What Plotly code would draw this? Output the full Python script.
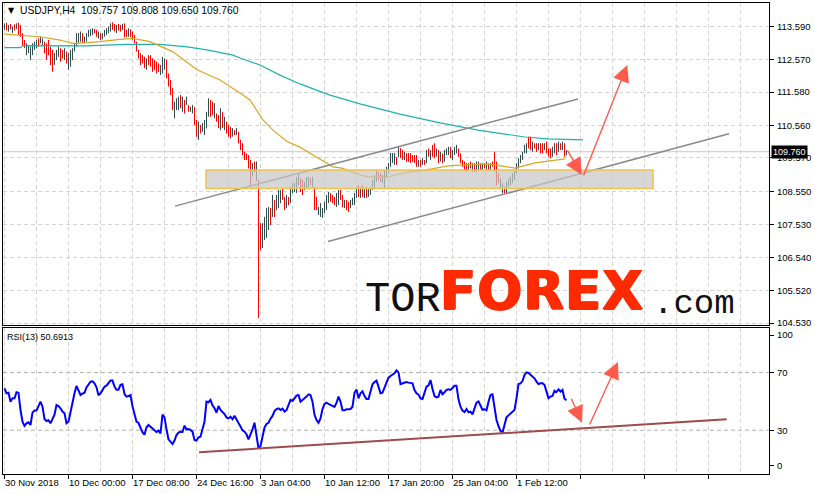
import plotly.graph_objects as go

# ---------------- data (USDJPY H4, bar index 0 = 30 Nov 2018) ----------------
highs = [
    113.68,113.70,113.63,113.66,113.58,113.65,113.68,113.70,113.63,113.38,
    113.17,113.07,113.02,112.97,113.07,113.12,113.17,113.22,113.27,113.22,
    113.12,113.07,113.17,112.97,112.87,112.77,112.87,112.97,112.92,112.87,
    112.92,112.82,112.77,112.87,112.92,113.07,113.38,113.38,113.43,113.38,
    113.27,113.38,113.48,113.50,113.53,113.51,113.48,113.43,113.38,113.38,
    113.48,113.53,113.58,113.68,113.71,113.66,113.63,113.66,113.63,113.66,
    113.68,113.48,113.53,113.50,113.43,113.32,113.12,112.87,112.77,112.71,
    112.66,112.61,112.71,112.71,112.61,112.56,112.51,112.46,112.41,112.66,
    112.61,112.56,112.15,111.95,111.70,111.29,111.39,111.44,111.49,111.44,
    111.34,111.44,111.19,111.13,111.19,111.13,110.73,110.68,110.58,110.63,
    110.73,110.98,111.39,111.34,111.29,111.24,110.93,110.88,111.09,110.98,
    110.83,110.68,110.58,110.52,110.48,110.42,110.48,110.37,110.12,110.02,
    109.76,109.71,109.66,109.51,109.41,109.46,109.46,108.90,107.58,107.58,
    107.77,108.04,108.07,108.04,108.44,108.29,108.44,108.59,108.59,108.65,
    108.38,108.44,108.38,108.68,108.81,108.81,108.99,109.11,108.96,108.90,
    108.84,108.99,108.99,108.96,108.99,108.68,108.38,108.07,108.19,108.04,
    108.23,108.44,108.53,108.50,108.44,108.38,108.50,108.59,108.59,108.44,
    108.29,108.29,108.23,108.29,108.35,108.50,108.68,108.74,108.68,108.74,
    108.65,108.68,108.65,108.68,108.90,109.05,109.20,109.14,109.11,109.05,
    109.20,109.30,109.42,109.72,109.72,109.72,109.60,109.91,109.87,109.81,
    109.76,109.72,109.72,109.72,109.66,109.66,109.66,109.51,109.51,109.56,
    109.51,109.81,109.86,109.81,109.97,110.02,109.86,109.81,109.76,109.71,
    109.81,109.86,109.91,109.91,109.81,109.91,109.97,109.86,109.71,109.51,
    109.46,109.41,109.41,109.46,109.41,109.41,109.46,109.46,109.41,109.41,
    109.41,109.46,109.41,109.41,109.46,109.76,109.46,109.10,108.95,108.80,
    108.69,108.85,108.95,109.00,109.10,109.20,109.41,109.56,109.66,109.76,
    109.97,110.02,110.22,110.22,110.07,110.02,110.02,110.02,110.02,110.02,
    110.02,110.07,109.86,109.86,109.91,110.02,110.02,110.07,110.02,110.07,
    110.02,109.808]
lows = [
    113.48,113.46,113.43,113.50,113.38,113.46,113.50,113.32,113.27,113.02,
    112.92,112.71,112.77,112.56,112.71,112.87,112.92,112.97,113.07,113.02,
    112.77,112.56,112.71,112.41,112.20,112.41,112.56,112.66,112.51,112.61,
    112.56,112.46,112.26,112.36,112.56,112.82,112.97,113.07,113.12,113.07,
    113.07,113.12,113.27,113.29,113.32,113.38,113.27,113.22,113.17,113.19,
    113.27,113.32,113.38,113.43,113.48,113.43,113.38,113.46,113.43,113.48,
    113.25,113.27,113.27,113.27,113.17,113.07,112.82,112.61,112.41,112.46,
    112.31,112.26,112.41,112.36,112.20,112.26,112.15,112.20,112.10,112.15,
    112.26,112.00,111.75,111.49,111.03,110.78,111.03,111.03,111.09,110.98,
    110.93,111.19,110.98,110.98,110.93,110.58,110.22,110.12,110.32,110.37,
    110.27,110.47,110.83,110.83,110.88,110.78,110.68,110.48,110.42,110.48,
    110.42,110.32,110.22,110.17,110.22,110.27,110.27,110.02,109.81,109.66,
    109.51,109.51,109.25,108.69,109.00,109.15,108.85,104.68,106.76,106.82,
    107.06,107.13,107.37,107.52,107.77,107.77,107.98,108.04,108.19,108.29,
    107.98,108.04,108.13,108.19,108.50,108.53,108.50,108.74,108.53,108.44,
    108.59,108.65,108.68,108.74,108.68,107.98,107.98,107.83,107.77,107.74,
    107.89,107.98,108.19,108.23,108.19,108.13,108.07,108.13,108.29,108.07,
    108.04,107.98,107.92,108.04,108.13,108.13,108.35,108.38,108.35,108.38,
    108.35,108.35,108.38,108.44,108.59,108.65,108.84,108.90,108.84,108.81,
    108.65,108.96,109.11,109.30,109.42,109.36,109.36,109.60,109.57,109.51,
    109.51,109.45,109.45,109.42,109.45,109.42,109.30,109.30,109.30,109.36,
    109.36,109.41,109.61,109.51,109.61,109.56,109.61,109.41,109.46,109.41,
    109.46,109.66,109.66,109.56,109.51,109.66,109.71,109.61,109.41,109.30,
    109.20,109.15,109.20,109.25,109.15,109.15,109.15,109.20,109.20,109.20,
    109.25,109.20,109.20,109.20,109.30,109.15,108.74,108.80,108.64,108.49,
    108.49,108.49,108.69,108.74,108.80,108.90,109.10,109.25,109.41,109.51,
    109.71,109.71,109.86,109.81,109.76,109.86,109.76,109.81,109.71,109.71,
    109.81,109.71,109.61,109.56,109.61,109.71,109.66,109.76,109.81,109.81,
    109.61,109.650]
opens = [
    113.51,113.67,113.46,113.63,113.41,113.62,113.53,113.67,113.60,113.35,
    113.14,112.74,112.80,112.59,112.74,112.90,112.95,113.19,113.10,113.05,
    113.09,113.04,113.14,112.94,112.84,112.44,112.59,112.69,112.89,112.84,
    112.59,112.79,112.29,112.39,112.59,112.85,113.00,113.10,113.15,113.35,
    113.10,113.15,113.30,113.32,113.35,113.48,113.45,113.25,113.35,113.22,
    113.30,113.35,113.41,113.46,113.68,113.63,113.41,113.63,113.60,113.51,
    113.65,113.45,113.30,113.47,113.40,113.29,113.09,112.84,112.74,112.68,
    112.63,112.29,112.68,112.68,112.58,112.53,112.48,112.43,112.13,112.18,
    112.29,112.53,112.12,111.92,111.67,110.81,111.06,111.06,111.46,111.01,
    111.31,111.22,111.16,111.01,110.96,111.10,110.70,110.15,110.55,110.40,
    110.30,110.50,110.86,111.31,111.26,110.81,110.90,110.85,110.45,110.95,
    110.45,110.65,110.55,110.49,110.25,110.39,110.30,110.34,110.09,109.99,
    109.73,109.68,109.63,109.48,109.03,109.43,108.88,108.87,107.55,106.85,
    107.09,107.16,107.40,108.01,107.80,108.26,108.01,108.07,108.22,108.62,
    108.35,108.07,108.35,108.22,108.53,108.56,108.53,108.77,108.93,108.87,
    108.62,108.68,108.71,108.93,108.71,108.65,108.35,107.86,107.80,107.77,
    107.92,108.01,108.22,108.47,108.41,108.35,108.10,108.16,108.56,108.41,
    108.07,108.26,108.20,108.07,108.16,108.16,108.38,108.71,108.38,108.71,
    108.38,108.65,108.41,108.47,108.62,108.68,108.87,109.11,109.08,108.84,
    108.68,108.99,109.14,109.33,109.45,109.39,109.57,109.63,109.84,109.78,
    109.54,109.69,109.69,109.69,109.63,109.63,109.63,109.33,109.48,109.39,
    109.48,109.44,109.83,109.54,109.94,109.99,109.64,109.78,109.49,109.68,
    109.49,109.69,109.69,109.88,109.54,109.69,109.74,109.83,109.68,109.48,
    109.43,109.38,109.23,109.43,109.18,109.38,109.18,109.23,109.38,109.23,
    109.38,109.23,109.38,109.23,109.43,109.73,109.43,109.07,108.67,108.52,
    108.66,108.52,108.72,108.77,108.83,108.93,109.13,109.28,109.44,109.54,
    109.74,109.74,110.19,110.19,109.79,109.99,109.99,109.84,109.99,109.99,
    109.84,110.04,109.83,109.83,109.64,109.74,109.99,109.79,109.99,109.84,
    109.99,109.757]
closes = [
    113.65,113.49,113.60,113.53,113.55,113.49,113.65,113.35,113.30,113.05,
    112.95,113.04,112.99,112.94,113.04,113.09,113.14,113.00,113.24,113.19,
    112.80,112.59,112.74,112.44,112.23,112.74,112.84,112.94,112.54,112.64,
    112.89,112.49,112.74,112.84,112.89,113.04,113.35,113.35,113.40,113.10,
    113.24,113.35,113.45,113.47,113.50,113.41,113.30,113.40,113.20,113.35,
    113.45,113.50,113.55,113.65,113.51,113.46,113.60,113.49,113.46,113.63,
    113.28,113.30,113.50,113.30,113.20,113.10,112.85,112.64,112.44,112.49,
    112.34,112.58,112.44,112.39,112.23,112.29,112.18,112.23,112.38,112.63,
    112.58,112.03,111.78,111.52,111.06,111.26,111.36,111.41,111.12,111.41,
    110.96,111.41,111.01,111.10,111.16,110.61,110.25,110.65,110.35,110.60,
    110.70,110.95,111.36,110.86,110.91,111.21,110.71,110.51,111.06,110.51,
    110.80,110.35,110.25,110.20,110.45,110.30,110.45,110.05,109.84,109.69,
    109.54,109.54,109.28,108.72,109.38,109.18,109.43,107.65,106.79,107.55,
    107.74,108.01,108.04,107.55,108.41,107.80,108.41,108.56,108.56,108.32,
    108.01,108.41,108.16,108.65,108.78,108.78,108.96,109.08,108.56,108.47,
    108.81,108.96,108.96,108.77,108.96,108.01,108.01,108.04,108.16,108.01,
    108.20,108.41,108.50,108.26,108.22,108.16,108.47,108.56,108.32,108.10,
    108.26,108.01,107.95,108.26,108.32,108.47,108.65,108.41,108.65,108.41,
    108.62,108.38,108.62,108.65,108.87,109.02,109.17,108.93,108.87,109.02,
    109.17,109.27,109.39,109.69,109.69,109.69,109.39,109.88,109.60,109.54,
    109.73,109.48,109.48,109.45,109.48,109.45,109.33,109.48,109.33,109.53,
    109.39,109.78,109.64,109.78,109.64,109.59,109.83,109.44,109.73,109.44,
    109.78,109.83,109.88,109.59,109.78,109.88,109.94,109.64,109.44,109.33,
    109.23,109.18,109.38,109.28,109.38,109.18,109.43,109.43,109.23,109.38,
    109.28,109.43,109.23,109.38,109.33,109.18,108.77,108.83,108.92,108.77,
    108.52,108.82,108.92,108.97,109.07,109.17,109.38,109.53,109.63,109.73,
    109.94,109.99,109.89,109.84,110.04,109.89,109.79,109.99,109.74,109.74,
    109.99,109.74,109.64,109.59,109.88,109.99,109.69,110.04,109.84,110.04,
    109.64,109.760]
rsi_values = [
    59.0,55.6,56.0,49.8,52.1,52.1,56.3,56.0,44.0,35.9,
    33.0,34.8,35.5,33.6,42.2,43.6,43.6,46.8,49.8,46.3,
    37.8,36.4,36.9,34.8,38.5,40.8,47.5,46.8,45.2,42.9,
    41.7,34.8,35.9,42.9,51.0,55.6,60.7,57.9,54.4,55.3,
    56.0,59.7,62.1,63.7,63.9,62.5,59.7,54.2,55.6,58.4,
    60.2,60.9,62.3,64.4,64.4,60.2,58.1,58.1,61.4,61.8,
    55.1,53.3,53.7,54.4,46.6,40.6,35.9,35.0,31.3,28.5,
    26.9,32.0,33.6,32.5,31.1,30.2,28.8,29.7,27.8,40.8,
    38.9,30.6,23.7,22.1,20.4,22.8,26.7,28.3,29.0,28.8,
    33.2,30.6,30.8,30.2,29.0,23.2,22.8,25.1,25.5,30.6,
    35.9,49.8,49.4,51.0,47.3,45.2,42.2,46.8,44.0,42.6,
    41.2,38.9,38.2,39.4,37.6,40.1,37.1,35.0,32.5,29.9,
    29.0,27.2,23.7,26.7,30.6,35.2,26.7,17.5,19.0,26.0,
    31.8,34.3,35.2,38.0,39.9,43.3,44.7,45.2,44.0,45.0,
    42.9,44.0,47.9,51.0,50.3,52.6,54.0,54.4,49.8,51.0,
    51.9,53.3,54.9,54.4,49.8,40.8,37.1,35.2,38.2,44.7,
    48.2,49.1,48.2,47.5,46.5,46.1,48.9,53.3,49.8,43.8,
    43.8,44.5,44.5,44.7,46.3,56.0,58.3,52.1,55.6,57.0,
    53.7,51.7,51.7,57.9,61.8,63.4,64.4,60.2,55.6,56.0,
    59.5,62.7,66.4,67.6,68.3,69.4,71.5,70.1,62.0,62.5,
    63.0,63.4,63.0,62.5,62.5,57.9,55.6,54.7,52.1,51.7,
    56.7,60.2,61.1,64.8,58.6,53.7,52.8,53.3,57.9,54.9,
    56.3,57.9,58.3,57.9,59.3,60.9,60.9,51.4,46.3,43.6,
    42.6,44.7,42.4,42.9,41.0,45.2,49.1,50.0,47.5,44.2,
    44.5,43.8,49.8,54.4,54.9,46.3,37.1,32.9,29.5,28.3,
    33.6,38.9,40.3,41.7,43.1,44.0,52.1,62.0,62.5,64.1,
    68.3,70.1,69.7,68.3,67.1,66.0,63.7,62.0,62.5,62.5,
    61.4,57.4,52.1,53.3,53.7,57.4,56.5,58.3,56.7,57.9,
    51.9,50.69]
assert len(highs) == len(lows) == len(opens) == len(closes) == len(rsi_values), \
    (len(highs), len(lows), len(opens), len(closes), len(rsi_values))
bar_idx = list(range(len(highs)))

# moving averages (bar index, price)
ma_fast_x = [0, 7.75, 17.75, 27.75, 34.25, 41.25, 47.75, 57.75, 64.25, 72.75, 84.25, 96.25,
             107.75, 117.75, 122.75, 129.25, 134.25, 141.25, 147.75, 154.25, 164.25, 168.75,
             177.75, 181.75, 191.75, 201.75, 210.25, 221.75, 238.75, 245.25, 255.25, 265.25, 280.25]
ma_fast_y = [113.35, 113.32, 113.27, 113.17, 113.07, 113.09, 113.12, 113.19, 113.22, 113.12, 112.81,
             112.26, 111.95, 111.55, 111.34, 110.73, 110.42, 110.07, 109.90, 109.66, 109.30, 109.26,
             109.05, 108.99, 108.99, 109.14, 109.20, 109.33, 109.39, 109.36, 109.26, 109.42, 109.54]
ma_slow_x = [0, 8, 9, 31, 41, 61, 78, 91.25, 101.25, 114.25, 117.75, 127.75, 137.75, 147.75,
             162.75, 177.75, 197.75, 217.75, 236.75, 260.25, 271.75, 289.25]
ma_slow_y = [112.94, 112.94, 113.00, 113.00, 112.99, 113.04, 113.04, 112.96, 112.87, 112.71, 112.62,
             112.41, 112.10, 111.83, 111.49, 111.22, 110.91, 110.64, 110.42, 110.21, 110.15, 110.12]

# drawn objects (bar index, value)
upper_channel_x = [85.25, 286.75]
upper_channel_y = [108.10, 111.37]
lower_channel_x = [161.75, 362.25]
lower_channel_y = [107.02, 110.31]
zone_x = [100.75, 324.25]
zone_y = [108.64, 109.20]
price_arrows = [((281.1, 109.84), (288.6, 109.05)), ((289.25, 108.99), (311.4, 112.41))]
rsi_trend_x = [97.25, 361.1]
rsi_trend_y = [14.7, 37.6]
rsi_arrows = [((283.1, 52.8), (288.75, 35.2)), ((292.25, 32.9), (306.75, 77.3))]
last_price = 109.760

price_ticks = [113.59, 112.57, 111.58, 110.56, 109.57, 108.55, 107.53, 106.54, 105.52, 104.53]
time_labels = ["30 Nov 2018", "10 Dec 00:00", "17 Dec 08:00", "24 Dec 16:00", "3 Jan 04:00",
               "10 Jan 12:00", "17 Jan 20:00", "25 Jan 04:00", "1 Feb 12:00"]
time_label_bars = [0, 32, 64, 96, 128, 160, 192, 224, 256]

# ---------------- figure ----------------
FONT = "Liberation Sans, Arial, sans-serif"
GRID = "#d4d4d4"
fig = go.Figure()

fig.add_trace(go.Ohlc(
    x=bar_idx, open=opens, high=highs, low=lows, close=closes,
    increasing=dict(line=dict(color="#2f4f4f", width=1)),
    decreasing=dict(line=dict(color="#ff0000", width=1)),
    tickwidth=0.25, xaxis="x", yaxis="y", hoverinfo="skip", showlegend=False))
fig.add_trace(go.Scatter(x=ma_slow_x, y=ma_slow_y, mode="lines",
                         line=dict(color="#20b2aa", width=1.2), xaxis="x", yaxis="y",
                         hoverinfo="skip", showlegend=False))
fig.add_trace(go.Scatter(x=ma_fast_x, y=ma_fast_y, mode="lines",
                         line=dict(color="#daa520", width=1.2), xaxis="x", yaxis="y",
                         hoverinfo="skip", showlegend=False))
fig.add_trace(go.Scatter(x=upper_channel_x, y=upper_channel_y, mode="lines",
                         line=dict(color="#8a8a8a", width=1.5), xaxis="x", yaxis="y",
                         hoverinfo="skip", showlegend=False))
fig.add_trace(go.Scatter(x=lower_channel_x, y=lower_channel_y, mode="lines",
                         line=dict(color="#8a8a8a", width=1.5), xaxis="x", yaxis="y",
                         hoverinfo="skip", showlegend=False))
fig.add_trace(go.Scatter(x=bar_idx, y=rsi_values, mode="lines",
                         line=dict(color="#0000ff", width=2), xaxis="x2", yaxis="y2",
                         hoverinfo="skip", showlegend=False))
fig.add_trace(go.Scatter(x=rsi_trend_x, y=rsi_trend_y, mode="lines",
                         line=dict(color="#9e4b4b", width=2), xaxis="x2", yaxis="y2",
                         hoverinfo="skip", showlegend=False))

shapes = [
    dict(type="line", xref="x domain", x0=0, x1=1, yref="y", y0=last_price, y1=last_price,
         line=dict(color="#c8c8c8", width=1), layer="below"),
    dict(type="rect", xref="x", yref="y", x0=zone_x[0], x1=zone_x[1], y0=zone_y[0], y1=zone_y[1],
         fillcolor="rgba(200,200,200,0.72)", line=dict(color="#f0c24a", width=1.5), layer="above"),
    dict(type="line", xref="x2 domain", x0=0, x1=1, yref="y2", y0=70, y1=70,
         line=dict(color="#b0b0b0", width=1, dash="4px,3px"), layer="below"),
    dict(type="line", xref="x2 domain", x0=0, x1=1, yref="y2", y0=30, y1=30,
         line=dict(color="#b0b0b0", width=1, dash="4px,3px"), layer="below"),
]

ann = []
ARROW = "#ff5b4d"
for (tx, ty), (hx, hy) in price_arrows:
    ann.append(dict(x=hx, y=hy, ax=tx, ay=ty, xref="x", yref="y", axref="x", ayref="y",
                    text="", showarrow=True, arrowhead=2, arrowsize=2.4, arrowwidth=1.4,
                    arrowcolor=ARROW, standoff=0))
for (tx, ty), (hx, hy) in rsi_arrows:
    ann.append(dict(x=hx, y=hy, ax=tx, ay=ty, xref="x2", yref="y2", axref="x2", ayref="y2",
                    text="", showarrow=True, arrowhead=2, arrowsize=2.4, arrowwidth=1.4,
                    arrowcolor=ARROW, standoff=0))
for lbl, b in zip(time_labels, time_label_bars):
    ann.append(dict(x=b - 0.6, y=-0.017, xref="x2", yref="paper", text=lbl, showarrow=False,
                    xanchor="left", yanchor="middle", font=dict(family=FONT, size=9.5, color="black")))
ann.append(dict(x=0.0045, y=0.985, xref="paper", yref="paper", text="▼", showarrow=False,
                xanchor="left", yanchor="middle", font=dict(family="DejaVu Sans", size=8, color="black")))
ann.append(dict(x=0.0195, y=0.984, xref="paper", yref="paper",
                text="USDJPY,H4\u00a0\u00a0109.757 109.808 109.650 109.760", showarrow=False,
                xanchor="left", yanchor="middle", font=dict(family=FONT, size=10.3, color="black")))
ann.append(dict(x=0.002, y=0.291, xref="paper", yref="paper", text="RSI(13) 50.6913",
                showarrow=False, xanchor="left", yanchor="middle",
                font=dict(family=FONT, size=9, color="black")))
ann.append(dict(x=1.0026, y=last_price, xref="paper", yref="y", text="109.760", showarrow=False,
                xanchor="left", yanchor="middle", bgcolor="black", borderpad=1,
                font=dict(family=FONT, size=9, color="white")))
# watermark logo
ann.append(dict(x=0.4700, y=0.369, xref="paper", yref="paper", text="TOR", showarrow=False,
                xanchor="left", yanchor="middle",
                font=dict(family="Liberation Mono", size=42, color="#111111")))
ann.append(dict(x=0.5685, y=0.389, xref="paper", yref="paper",
                text='<span style="letter-spacing:1px">FOREX</span>', showarrow=False,
                xanchor="left", yanchor="middle",
                font=dict(family="DejaVu Sans", size=53, color="#ff2a00", weight="bold",
                          shadow="1px 0px 0px #ff2a00, -1px 0px 0px #ff2a00, 0px 1px 0px #ff2a00")))
ann.append(dict(x=0.8460, y=0.360, xref="paper", yref="paper", text=".com", showarrow=False,
                xanchor="left", yanchor="middle",
                font=dict(family="Liberation Mono", size=34, color="#111111")))

axis_common = dict(showline=True, mirror=True, linecolor="black", linewidth=1, zeroline=False)
xgrid = dict(range=[-0.75, 382.25], tick0=0, dtick=32, showgrid=True, gridcolor=GRID,
             griddash="4px,3px", gridwidth=1,
             minor=dict(tick0=0, dtick=16, showgrid=True, gridcolor=GRID, griddash="4px,3px",
                        gridwidth=1, ticks=""),
             showticklabels=False)

fig.update_layout(
    width=815, height=494, margin=dict(l=3, r=46, t=3, b=20, pad=0),
    paper_bgcolor="white", plot_bgcolor="white",
    font=dict(family=FONT, size=9, color="black"),
    showlegend=False,
    xaxis=dict(domain=[0, 1], anchor="y", ticks="", rangeslider=dict(visible=False),
               **xgrid, **axis_common),
    yaxis=dict(domain=[0.3163, 1], anchor="x", range=[104.469, 114.301], side="right",
               tickvals=price_ticks, ticktext=[f"{v:.3f}" for v in price_ticks],
               ticks="outside", ticklen=4, tickcolor="black", ticklabelstandoff=1,
               showgrid=True, gridcolor=GRID, griddash="4px,3px",
               tickfont=dict(family=FONT, size=9.5, color="black"), **axis_common),
    xaxis2=dict(domain=[0, 1], anchor="y2", matches="x", ticks="outside", ticklen=4,
                tickcolor="black", **xgrid, **axis_common),
    yaxis2=dict(domain=[0, 0.31], anchor="x2", range=[-0.35, 100.87], side="right",
                tickvals=[5.2, 30, 70, 96], ticktext=["0", "30", "70", "100"],
                ticks="outside", ticklen=4, tickcolor="black", showgrid=False, ticklabelstandoff=1,
                tickfont=dict(family=FONT, size=9.5, color="black"), **axis_common),
    shapes=shapes, annotations=ann,
)

fig.write_html("out.html", config={"displayModeBar": False},
               post_script="document.body.style.margin='0';document.body.style.padding='0';")
